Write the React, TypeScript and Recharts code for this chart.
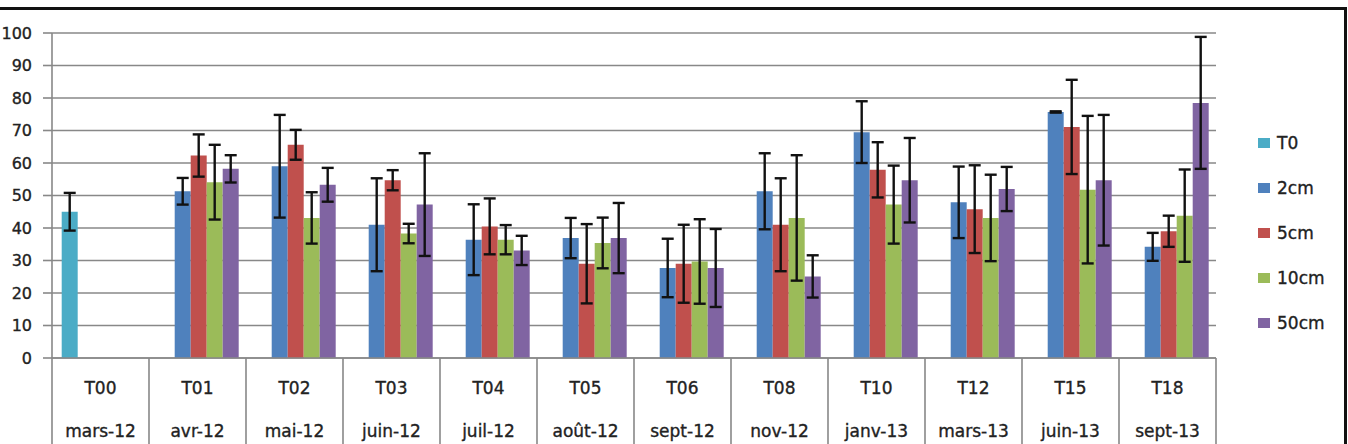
import { BarChart, Bar, XAxis, YAxis, CartesianGrid, ErrorBar } from 'recharts';

const codes = ['T00', 'T01', 'T02', 'T03', 'T04', 'T05', 'T06', 'T08', 'T10', 'T12', 'T15', 'T18'];
const months = ['mars-12', 'avr-12', 'mai-12', 'juin-12', 'juil-12', 'août-12', 'sept-12', 'nov-12', 'janv-13', 'mars-13', 'juin-13', 'sept-13'];

const t0 = [45, null, null, null, null, null, null, null, null, null, null, null];
const t0Err = [5.8, null, null, null, null, null, null, null, null, null, null, null];
const cm2 = [null, 51.3, 59, 41, 36.4, 36.9, 27.7, 51.3, 69.5, 47.9, 75.7, 34.2];
const cm2Err = [null, 4.1, 15.8, 14.3, 10.9, 6.2, 9, 11.7, 9.5, 11, 0.2, 4.3];
const cm5 = [null, 62.3, 65.6, 54.7, 40.5, 29, 29, 41, 57.9, 45.8, 71.1, 39];
const cm5Err = [null, 6.5, 4.6, 3.1, 8.6, 12.2, 12, 14.3, 8.5, 13.5, 14.5, 4.8];
const cm10 = [null, 54.1, 43.1, 38.3, 36.4, 35.4, 29.7, 43.1, 47.2, 43.1, 51.8, 43.8];
const cm10Err = [null, 11.5, 7.9, 3, 4.5, 7.8, 13, 19.3, 12, 13.3, 22.7, 14.2];
const cm50 = [null, 58.2, 53.3, 47.2, 33.1, 36.9, 27.7, 25.1, 54.7, 52, 54.7, 78.5];
const cm50Err = [null, 4.2, 5.2, 15.8, 4.5, 10.8, 12, 6.5, 13, 6.8, 20.1, 20.3];

const yTicks = [0, 10, 20, 30, 40, 50, 60, 70, 80, 90, 100];

const data = codes.map((code, i) => ({
  code,
  month: months[i],
  t0: t0[i],
  t0Err: t0Err[i],
  cm2: cm2[i],
  cm2Err: cm2Err[i],
  cm5: cm5[i],
  cm5Err: cm5Err[i],
  cm10: cm10[i],
  cm10Err: cm10Err[i],
  cm50: cm50[i],
  cm50Err: cm50Err[i],
}));

const series = [
  { key: 't0', err: 't0Err', name: 'T0', color: '#4bacc6' },
  { key: 'cm2', err: 'cm2Err', name: '2cm', color: '#4f81bd' },
  { key: 'cm5', err: 'cm5Err', name: '5cm', color: '#c0504d' },
  { key: 'cm10', err: 'cm10Err', name: '10cm', color: '#9bbb59' },
  { key: 'cm50', err: 'cm50Err', name: '50cm', color: '#8064a2' },
];

const W = 1348;
const H = 444;
const LEFT = 52;
const RIGHT = 132;
const BAND = (W - LEFT - RIGHT) / codes.length;
const GRID = '#888';
const TEXT = '#222';
const FONT = '"DejaVu Sans", sans-serif';

// two-row category labels with separators, like a table under the axis
function CategoryTick(props: any) {
  const { x, y, payload, index } = props;
  const row = data[index] ?? data.find(d => d.code === payload.value);
  const isLast = index === codes.length - 1;
  const label = { textAnchor: 'middle' as const, fill: TEXT, stroke: TEXT, strokeWidth: 0.35, fontSize: 17, fontFamily: FONT };
  return (
    <g>
      <line x1={x - BAND / 2} y1={y} x2={x - BAND / 2} y2={y + 100} stroke={GRID} strokeWidth={1.6} />
      {isLast && (
        <line x1={x + BAND / 2} y1={y} x2={x + BAND / 2} y2={y + 100} stroke={GRID} strokeWidth={1.6} />
      )}
      <text x={x} y={y + 36} {...label}>
        {payload.value}
      </text>
      <text x={x} y={y + 79} {...label}>
        {row ? row.month : ''}
      </text>
    </g>
  );
}

function SideLegend() {
  return (
    <div
      style={{
        position: 'absolute',
        left: 1258,
        top: 120,
        fontFamily: FONT,
        fontSize: 17,
        color: TEXT,
        WebkitTextStroke: '0.35px #222',
      }}
    >
      {series.map(s => (
        <div key={s.key} style={{ display: 'flex', alignItems: 'center', height: 45 }}>
          <span style={{ width: 12, height: 10, background: s.color, marginRight: 7, display: 'inline-block' }} />
          {s.name}
        </div>
      ))}
    </div>
  );
}

export default function App() {
  return (
    <div style={{ position: 'absolute', left: 0, top: 0, width: W, height: H, overflow: 'hidden', background: '#fff' }}>
      <div
        style={{
          position: 'absolute',
          left: -20,
          top: 7,
          width: 1367,
          height: 600,
          border: '3px solid #111',
          boxSizing: 'border-box',
        }}
      />
      <BarChart
        width={W}
        height={H}
        data={data}
        margin={{ top: 33, right: RIGHT, bottom: 0, left: 0 }}
        barCategoryGap="10%"
        barGap={0}
      >
        <CartesianGrid vertical={false} stroke={GRID} strokeWidth={1.6} />
        <XAxis
          dataKey="code"
          height={86}
          interval={0}
          tickLine={false}
          tickSize={0}
          tickMargin={0}
          axisLine={{ stroke: GRID, strokeWidth: 1.6 }}
          tick={<CategoryTick />}
        />
        <YAxis
          width={LEFT}
          domain={[0, 100]}
          ticks={yTicks}
          interval={0}
          tickSize={9}
          tickMargin={11}
          axisLine={{ stroke: GRID, strokeWidth: 1.6 }}
          tickLine={{ stroke: GRID, strokeWidth: 1.6 }}
          tick={{ fill: TEXT, stroke: TEXT, strokeWidth: 0.35, fontSize: 16, fontFamily: FONT }}
        />
        {series.map(s => (
          <Bar key={s.key} dataKey={s.key} name={s.name} fill={s.color} isAnimationActive={false}>
            <ErrorBar dataKey={s.err} width={6} stroke="#111" strokeWidth={2.4} isAnimationActive={false} />
          </Bar>
        ))}
      </BarChart>
      <SideLegend />
    </div>
  );
}
